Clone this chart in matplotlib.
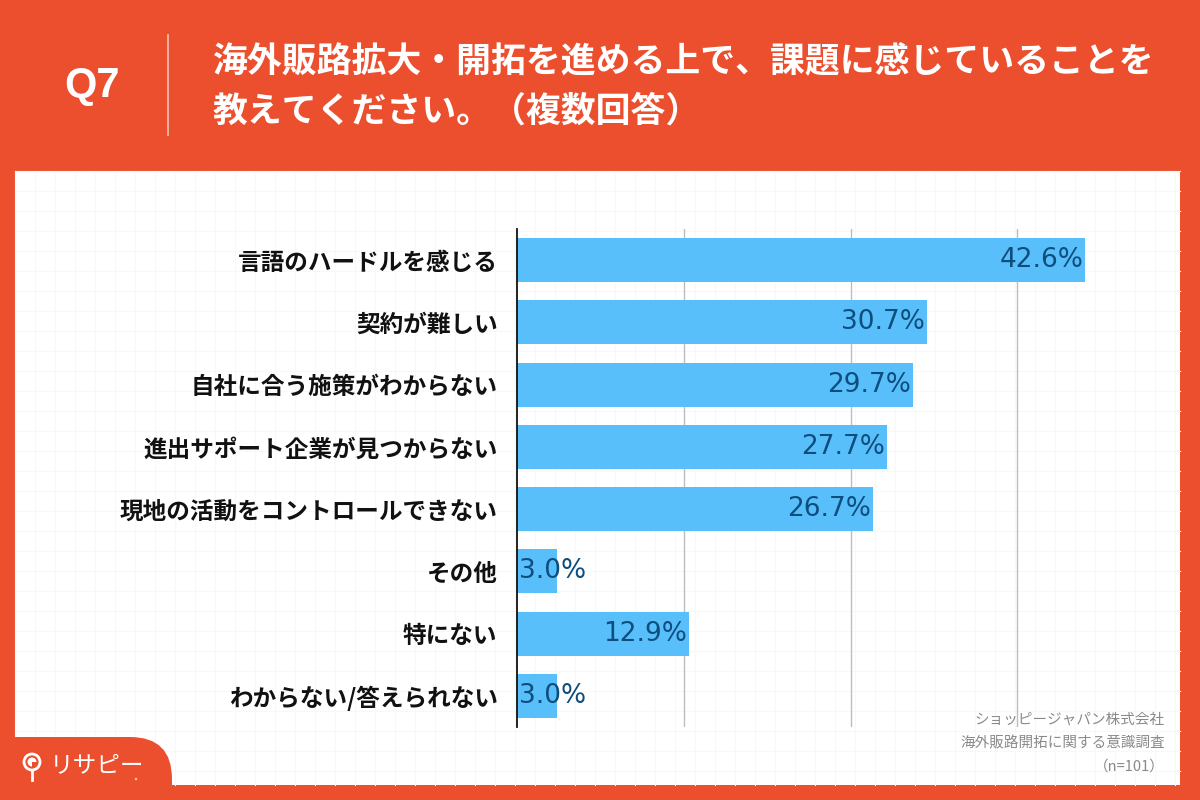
import matplotlib
matplotlib.use("Agg")
import matplotlib.pyplot as plt
from matplotlib.patches import Rectangle, FancyBboxPatch, Circle, Wedge

plt.rcParams["font.family"] = ["Noto Sans CJK JP", "DejaVu Sans"]

ORANGE = "#EC4F2E"
BAR = "#58BFFB"
VALUE = "#0E4E7E"

categories = [
    "言語のハードルを感じる",
    "契約が難しい",
    "自社に合う施策がわからない",
    "進出サポート企業が見つからない",
    "現地の活動をコントロールできない",
    "その他",
    "特にない",
    "わからない/答えられない",
]
values = [42.6, 30.7, 29.7, 27.7, 26.7, 3.0, 12.9, 3.0]
grid_ticks = [12.5, 25, 37.5]

title_lines = [
    "海外販路拡大・開拓を進める上で、課題に感じていることを",
    "教えてください。（複数回答）",
]
source_lines = ["ショッピージャパン株式会社", "海外販路開拓に関する意識調査", "（n=101）"]

fig = plt.figure(figsize=(12, 8), dpi=100, facecolor=ORANGE)

# background layer in pixel coordinates
bg = fig.add_axes([0, 0, 1, 1])
bg.set_xlim(0, 1200)
bg.set_ylim(800, 0)
bg.axis("off")

bg.add_patch(Rectangle((15, 171), 1165, 614, facecolor="white", edgecolor="none", zorder=1))
# faint graph-paper pattern
for gx in range(15, 1180, 20):
    bg.plot([gx, gx], [171, 785], color="#f8f8f8", lw=0.8, zorder=2)
for gy in range(171, 785, 20):
    bg.plot([15, 1180], [gy, gy], color="#f8f8f8", lw=0.8, zorder=2)

# header
bg.text(92, 86, "Q7", color="white", fontsize=30, fontweight="bold",
        family=["Liberation Sans", "DejaVu Sans"], ha="center", va="center", zorder=3)
bg.plot([168, 168], [35, 135], color="#f6c2b5", lw=1.2, zorder=3)
bg.text(213, 62, title_lines[0], color="white", fontsize=25.1, fontweight="bold",
        ha="left", va="center", zorder=3)
bg.text(213, 111, title_lines[1], color="white", fontsize=25.1, fontweight="bold",
        ha="left", va="center", zorder=3)

# logo tab
bg.add_patch(FancyBboxPatch((-60, 737), 232, 120, boxstyle="round,pad=0,rounding_size=42",
                            facecolor=ORANGE, edgecolor="none", zorder=3))
bg.add_patch(Circle((32, 762), 8, facecolor="none", edgecolor="white", lw=2, zorder=4))
bg.add_patch(Wedge((32, 762), 4.5, 90, 360, facecolor="white", edgecolor="none", zorder=4))
bg.plot([32, 32], [770, 780], color="white", lw=2, zorder=4)
bg.text(50, 766, "リサピー", color="white", fontsize=17, ha="left", va="center", zorder=4)
bg.add_patch(Circle((136, 779), 1.2, facecolor="#f6c2b5", edgecolor="none", zorder=4))

# source note
for i, line in enumerate(source_lines):
    bg.text(1165, 720 + i * 23.5, line, color="#8a8a8a", fontsize=10.5,
            ha="right", va="center", zorder=4)

# chart
ax = fig.add_axes([517 / 1200, 1 - 727 / 800, (1184 - 517) / 1200, (727 - 229) / 800])
ax.patch.set_alpha(0)
y = list(range(len(categories)))
ax.barh(y, values, height=0.71, color=BAR, zorder=3)
ax.set_xlim(0, 50)
ax.set_ylim(len(categories) - 0.5, -0.5)
ax.set_xticks(grid_ticks)
ax.xaxis.grid(True, color="#bdbdbd", lw=1, zorder=0)
ax.tick_params(axis="x", length=0, labelbottom=False)
ax.set_yticks(y)
ax.set_yticklabels(categories, fontsize=17, fontweight="bold", color="#111111")
ax.tick_params(axis="y", length=0, pad=14)
for s in ["top", "right", "bottom"]:
    ax.spines[s].set_visible(False)
ax.spines["left"].set_color("#111111")
ax.spines["left"].set_linewidth(1.3)
ax.spines["left"].set_zorder(4)

for yi, v in zip(y, values):
    label = f"{v:.1f}%"
    if v < 5:
        ax.text(0.15, yi, label, ha="left", va="center", fontsize=19,
                color=VALUE, family=["DejaVu Sans"], zorder=5)
    else:
        ax.text(v - 0.15, yi, label, ha="right", va="center", fontsize=19,
                color=VALUE, family=["DejaVu Sans"], zorder=5)

fig.savefig("out.png", dpi=100, facecolor=ORANGE)
